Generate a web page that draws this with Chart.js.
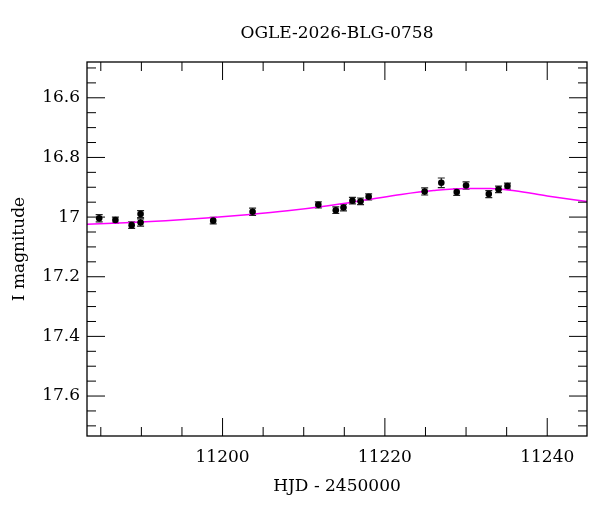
<!DOCTYPE html>
<html>
<head>
<meta charset="utf-8">
<script src="https://cdn.jsdelivr.net/npm/chart.js@4.4.1/dist/chart.umd.min.js"></script>
<style>
  html, body { margin: 0; padding: 0; background: #fff; }
  #wrap { width: 600px; height: 512px; }
</style>
</head>
<body>
<div id="wrap"><canvas id="lc"></canvas></div>
<script>
const hjd = [11184.8, 11186.8, 11188.8, 11189.9, 11189.9, 11198.85, 11203.7, 11211.8, 11213.95, 11214.9,
             11216.0, 11217.0, 11218.0, 11224.9, 11226.95, 11228.85, 11230.0, 11232.8, 11234.0, 11235.1];
const mag = [17.004, 17.010, 17.027, 16.990, 17.018, 17.012, 16.982, 16.959, 16.977, 16.968,
             16.945, 16.947, 16.932, 16.914, 16.885, 16.916, 16.894, 16.923, 16.907, 16.896];
const magErr = [0.012, 0.010, 0.011, 0.012, 0.012, 0.011, 0.012, 0.010, 0.011, 0.011,
                0.011, 0.011, 0.010, 0.012, 0.016, 0.011, 0.012, 0.012, 0.011, 0.010];

// model curve
const modelHjd = [11183.3, 11188, 11193, 11198, 11203, 11208, 11213, 11218, 11222, 11226, 11230, 11233, 11236, 11240, 11244.9];
const modelMag = [17.024, 17.019, 17.012, 17.003, 16.992, 16.979, 16.962, 16.941, 16.924, 16.911, 16.904, 16.904, 16.912, 16.929, 16.948];

const xTickLabels = [11200, 11220, 11240];
const yTickLabels = [16.6, 16.8, 17, 17.2, 17.4, 17.6];

const FONT = '"DejaVu Serif", "Liberation Serif", serif';

// error bars under the points
const errorBars = {
  id: "errorBars",
  beforeDatasetsDraw(chart) {
    const ctx = chart.ctx;
    const xs = chart.scales.x, ys = chart.scales.y;
    ctx.save();
    ctx.strokeStyle = "#222";
    ctx.lineWidth = 1.2;
    for (let i = 0; i < hjd.length; i++) {
      const px = xs.getPixelForValue(hjd[i]);
      const y1 = ys.getPixelForValue(mag[i] - magErr[i]);
      const y2 = ys.getPixelForValue(mag[i] + magErr[i]);
      ctx.beginPath();
      ctx.moveTo(px, y1); ctx.lineTo(px, y2);
      ctx.moveTo(px - 3.5, y1); ctx.lineTo(px + 3.5, y1);
      ctx.moveTo(px - 3.5, y2); ctx.lineTo(px + 3.5, y2);
      ctx.stroke();
    }
    ctx.restore();
  }
};

// box, inward ticks on all four sides, title
const frame = {
  id: "frame",
  afterDraw(chart) {
    const ctx = chart.ctx;
    const a = chart.chartArea;
    const xs = chart.scales.x, ys = chart.scales.y;
    ctx.save();
    ctx.strokeStyle = "#000";
    ctx.lineWidth = 1.3;
    ctx.strokeRect(a.left, a.top, a.right - a.left, a.bottom - a.top);

    ctx.lineWidth = 1;
    ctx.beginPath();
    for (let v = Math.ceil(xs.min / 5) * 5; v <= xs.max; v += 5) {
      const p = xs.getPixelForValue(v);
      const len = v % 20 === 0 ? 18 : 9;
      ctx.moveTo(p, a.bottom); ctx.lineTo(p, a.bottom - len);
      ctx.moveTo(p, a.top); ctx.lineTo(p, a.top + len);
    }
    for (let k = Math.ceil(ys.min / 0.05); k * 0.05 <= ys.max + 1e-9; k++) {
      const v = k * 0.05;
      const p = ys.getPixelForValue(v);
      const len = k % 4 === 0 ? 18 : 9;
      ctx.moveTo(a.left, p); ctx.lineTo(a.left + len, p);
      ctx.moveTo(a.right, p); ctx.lineTo(a.right - len, p);
    }
    ctx.stroke();

    ctx.fillStyle = "#000";
    ctx.font = "17px " + FONT;
    ctx.textAlign = "center";
    ctx.textBaseline = "middle";
    ctx.fillText("OGLE-2026-BLG-0758", (a.left + a.right) / 2, 34);
    ctx.restore();
  }
};

new Chart(document.getElementById("lc"), {
  data: {
    datasets: [
      {
        type: "scatter",
        data: hjd.map((x, i) => ({ x: x, y: mag[i] })),
        backgroundColor: "#000",
        borderWidth: 0,
        pointRadius: 3.3,
      },
      {
        type: "line",
        data: modelHjd.map((x, i) => ({ x: x, y: modelMag[i] })),
        borderColor: "#ff00ff",
        borderWidth: 1.5,
        pointRadius: 0,
        cubicInterpolationMode: "monotone",
        fill: false,
      },
    ],
  },
  options: {
    responsive: true,
    maintainAspectRatio: false,
    animation: false,
    layout: { padding: { top: 62, right: 13, left: 0, bottom: 0 } },
    plugins: { legend: { display: false }, tooltip: { enabled: false } },
    scales: {
      x: {
        type: "linear",
        min: 11183.3,
        max: 11244.9,
        grid: { display: false, drawTicks: false },
        border: { display: false },
        afterBuildTicks: (s) => { s.ticks = xTickLabels.map((v) => ({ value: v })); },
        afterFit: (s) => { s.height = 76; },
        ticks: {
          color: "#000",
          font: { family: FONT, size: 17 },
          padding: 11,
          maxRotation: 0,
          autoSkip: false,
          callback: (v) => String(v),
        },
        title: {
          display: true,
          text: "HJD - 2450000",
          color: "#000",
          font: { family: FONT, size: 17 },
          padding: { top: 0, bottom: 15 },
        },
      },
      y: {
        type: "linear",
        reverse: true,
        min: 16.48,
        max: 17.734,
        grid: { display: false, drawTicks: false },
        border: { display: false },
        afterBuildTicks: (s) => { s.ticks = yTickLabels.map((v) => ({ value: v })); },
        afterFit: (s) => { s.width = 87; },
        ticks: {
          color: "#000",
          font: { family: FONT, size: 17 },
          padding: 7,
          autoSkip: false,
          callback: (v) => String(v),
        },
        title: {
          display: true,
          text: "I magnitude",
          color: "#000",
          font: { family: FONT, size: 17 },
          padding: { top: 9, bottom: 0 },
        },
      },
    },
  },
  plugins: [errorBars, frame],
});
</script>
</body>
</html>
